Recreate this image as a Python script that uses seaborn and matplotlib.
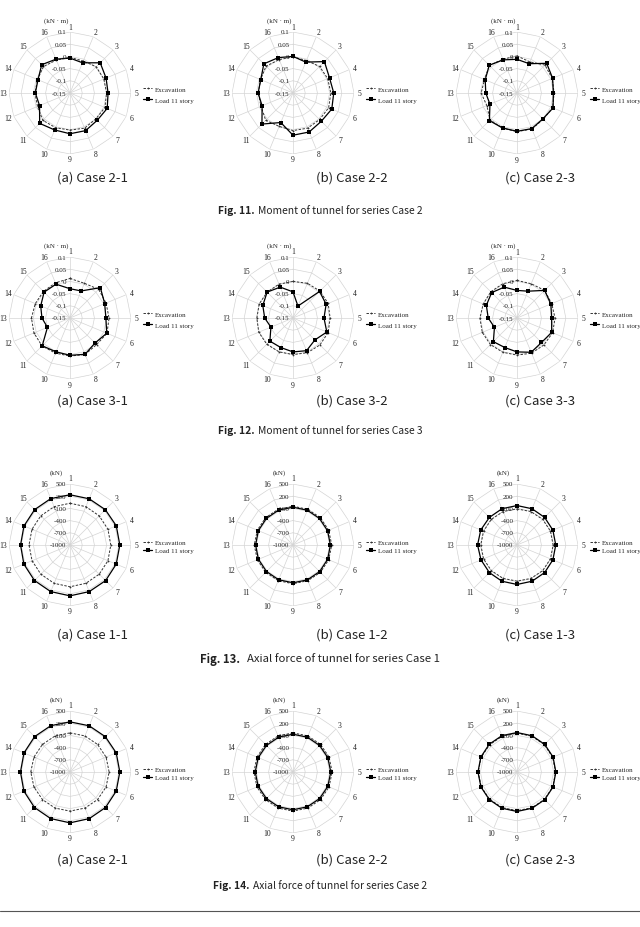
import numpy as np
import matplotlib
matplotlib.use("Agg")
import matplotlib.pyplot as plt
from matplotlib.lines import Line2D
import seaborn as sns

# ── data ──────────────────────────────────────────────────────────────────
points = [str(i) for i in range(1, 17)]

m_ticks = [-0.15, -0.1, -0.05, 0, 0.05, 0.1]
m_ticklabels = ["-0.15", "-0.1", "-0.05", "0", "0.05", "0.1"]
a_ticks = [-1000, -700, -400, -100, 200, 500]
a_ticklabels = ["-1000", "-700", "-400", "-100", "200", "500"]

# Fig. 11 - moment, series Case 2
m21_exc = [-0.004, -0.008, 0.002, 0.0, 0.0, 0.005, 0.0, 0.006, 0.002, 0.004, 0.008, -0.006, -0.006, -0.006, 0.004, -0.004]
m21_load = [-0.007, -0.016, 0.025, 0.010, 0.006, 0.015, 0.008, 0.017, 0.017, 0.014, 0.026, -0.015, -0.008, -0.008, 0.014, 0.0]
m22_exc = [-0.002, -0.006, 0.004, 0.004, 0.005, 0.008, 0.004, 0.006, 0.004, -0.002, 0.008, -0.008, -0.008, -0.006, 0.006, -0.002]
m22_load = [0.0, -0.013, 0.032, 0.012, 0.017, 0.022, 0.014, 0.023, 0.023, -0.019, 0.030, -0.013, -0.007, -0.007, 0.019, 0.007]
m23_exc = [0.002, -0.012, 0.012, 0.006, 0.002, 0.008, 0.002, 0.010, 0.008, 0.006, 0.006, -0.016, -0.003, -0.006, 0.010, 0.0]
m23_load = [-0.012, -0.020, 0.022, 0.008, -0.001, 0.010, 0.0, 0.008, 0.007, 0.005, 0.010, -0.030, -0.022, -0.009, 0.011, -0.003]

# Fig. 12 - moment, series Case 3
m31_exc = [0.012, 0.004, 0.016, 0.010, 0.010, 0.014, 0.004, 0.012, 0.006, 0.006, 0.012, 0.010, 0.008, 0.004, 0.004, 0.006]
m31_load = [-0.030, -0.030, 0.026, 0.004, -0.003, 0.013, -0.005, 0.011, 0.003, 0.0, 0.011, -0.050, -0.035, -0.020, 0.0, 0.0]
m32_exc = [0.0, 0.004, 0.006, 0.006, 0.002, 0.006, 0.006, 0.004, 0.0, 0.0, 0.002, 0.002, -0.002, 0.0, 0.0, 0.0]
m32_load = [-0.043, -0.097, 0.004, -0.003, -0.023, 0.0, -0.023, -0.005, -0.011, -0.019, -0.016, -0.052, -0.034, -0.016, 0.0, -0.013]
m33_exc = [0.004, 0.002, 0.010, 0.004, 0.006, 0.008, 0.006, 0.006, 0.002, 0.002, 0.004, 0.004, 0.002, 0.0, 0.002, 0.002]
m33_load = [-0.037, -0.031, 0.010, 0.0, -0.008, 0.004, -0.008, 0.002, -0.011, -0.019, -0.013, -0.050, -0.032, -0.014, -0.003, -0.013]

# Fig. 13 - axial force, series Case 1
a11_exc = [27, 20, 15, 10, 3, 10, 15, 20, 27, 20, 15, 10, 8, 12, 15, 20]
a11_load = [235, 230, 228, 232, 225, 230, 238, 240, 250, 240, 235, 228, 216, 225, 230, 235]
a12_exc = [-47, -50, -48, -50, -47, -50, -48, -50, -47, -50, -48, -50, -47, -50, -48, -50]
a12_load = [-71, -75, -78, -80, -80, -78, -75, -72, -71, -75, -78, -80, -80, -78, -75, -72]
a13_exc = [-112, -110, -108, -110, -112, -110, -108, -110, -112, -110, -108, -110, -110, -110, -108, -110]
a13_load = [-30, -35, -40, -45, -47, -45, -40, -35, -30, -35, -40, -42, -30, -35, -40, -35]

# Fig. 14 - axial force, series Case 2
a21_exc = [-38, -40, -42, -40, -38, -40, -42, -40, -38, -40, -42, -40, -35, -40, -42, -40]
a21_load = [233, 230, 228, 230, 225, 230, 235, 240, 250, 240, 235, 228, 218, 225, 230, 233]
a22_exc = [-38, -40, -42, -40, -38, -40, -42, -40, -38, -40, -42, -40, -38, -40, -42, -40]
a22_load = [-71, -74, -76, -74, -71, -74, -76, -74, -71, -74, -76, -74, -71, -74, -76, -74]
a23_exc = [-45, -48, -50, -52, -50, -48, -45, -48, -50, -52, -50, -48, -45, -48, -50, -48]
a23_load = [-30, -35, -38, -40, -45, -40, -38, -35, -30, -35, -38, -40, -40, -38, -35, -32]

# ── layout (pixels) ───────────────────────────────────────────────────────
W, H = 640, 928
R = 61
col_x = [70, 293, 517]
rows = [
    dict(cy=94, kind="m", unit="(kN · m)", cap_y=178,
         series=[(m21_exc, m21_load), (m22_exc, m22_load), (m23_exc, m23_load)],
         subs=["(a) Case 2-1", "(b) Case 2-2", "(c) Case 2-3"],
         fig_y=211, fig_no="Fig. 11.", fig_txt="Moment of tunnel for series Case 2",
         fs=7.4, gap=3),
    dict(cy=319, kind="m", unit="(kN · m)", cap_y=401,
         series=[(m31_exc, m31_load), (m32_exc, m32_load), (m33_exc, m33_load)],
         subs=["(a) Case 3-1", "(b) Case 3-2", "(c) Case 3-3"],
         fig_y=431, fig_no="Fig. 12.", fig_txt="Moment of tunnel for series Case 3",
         fs=7.4, gap=3),
    dict(cy=546, kind="a", unit="(kN)", cap_y=635,
         series=[(a11_exc, a11_load), (a12_exc, a12_load), (a13_exc, a13_load)],
         subs=["(a) Case 1-1", "(b) Case 1-2", "(c) Case 1-3"],
         fig_y=659, fig_no="Fig. 13.", fig_txt="Axial force of tunnel for series Case 1",
         fs=8.2, gap=7),
    dict(cy=773, kind="a", unit="(kN)", cap_y=860,
         series=[(a21_exc, a21_load), (a22_exc, a22_load), (a23_exc, a23_load)],
         subs=["(a) Case 2-1", "(b) Case 2-2", "(c) Case 2-3"],
         fig_y=886, fig_no="Fig. 14.", fig_txt="Axial force of tunnel for series Case 2",
         fs=7.4, gap=3),
]
sub_x = [92, 352, 540]

sns.set_theme(style="white")
plt.rcParams["font.family"] = ["Liberation Serif", "DejaVu Serif"]
SANS = ["Noto Sans CJK KR", "DejaVu Sans"]
GRID = "#d4d4d4"

fig = plt.figure(figsize=(W / 100, H / 100), dpi=100)
fig.patch.set_facecolor("white")

theta = np.linspace(0, 2 * np.pi, 17)
theta_deg = np.degrees(theta[:-1])


def radar(cx, cy, exc, load, ticks, ticklabels, unit, spacing):
    ax = fig.add_axes([(cx - R) / W, 1 - (cy + R) / H, 2 * R / W, 2 * R / H],
                      projection="polar")
    ax.set_theta_zero_location("N")
    ax.set_theta_direction(-1)
    lo, hi = ticks[0], ticks[-1]
    ax.set_ylim(lo, hi)
    ax.set_facecolor("none")
    ax.spines["polar"].set_visible(False)
    ax.yaxis.grid(False)
    ax.xaxis.grid(True, color=GRID, lw=0.5)
    ax.set_thetagrids(theta_deg, [""] * 16)
    ax.tick_params(axis="x", length=0)
    ax.set_yticks([])
    for lvl in ticks[1:]:
        ax.plot(theta, [lvl] * 17, color=GRID, lw=0.5, zorder=0)
    # spoke labels 1..16 just outside the outer ring
    r_lab = hi + (hi - lo) * 5.5 / R
    for t, p in zip(theta[:-1], points):
        ax.text(t, r_lab, p, ha="center", va="center", fontsize=5.5,
                color="#222222", clip_on=False)
    for lvl, lab in zip(ticks, ticklabels):
        ax.annotate(lab, xy=(0, lvl), xytext=(-2.5, 0), textcoords="offset points",
                    ha="right", va="center", fontsize=5, color="#222222")
    e = np.append(exc, exc[0])
    l = np.append(load, load[0])
    sns.lineplot(x=theta, y=e, ax=ax, sort=False, estimator=None, color="#333333",
                 lw=0.7, linestyle=(0, (2.5, 1.5)), marker="o", markersize=1.3,
                 markeredgewidth=0)
    sns.lineplot(x=theta, y=l, ax=ax, sort=False, estimator=None, color="black",
                 lw=0.9, marker="s", markersize=2.2, markeredgewidth=0)
    ax.set_xlabel("")
    ax.set_ylabel("")
    ax.text(0.385, 1.10, unit, transform=ax.transAxes, ha="center", va="center",
            fontsize=5)
    handles = [
        Line2D([], [], color="#333333", lw=0.7, linestyle=(0, (2.5, 1.5)),
               marker="o", markersize=1.3, markeredgewidth=0),
        Line2D([], [], color="black", lw=0.9, marker="s", markersize=2.2,
               markeredgewidth=0),
    ]
    ax.legend(handles, ["Excavation", "Load 11 story"], loc="center left",
              bbox_to_anchor=(1.10, 0.49), frameon=False, fontsize=5,
              handlelength=1.3, handletextpad=0.4, labelspacing=spacing,
              borderaxespad=0, borderpad=0)
    return ax


renderer = fig.canvas.get_renderer()
for row in rows:
    if row["kind"] == "m":
        ticks, labs, spacing = m_ticks, m_ticklabels, 0.75
    else:
        ticks, labs, spacing = a_ticks, a_ticklabels, 0.3
    for cx, (exc, load), sub, sx in zip(col_x, row["series"], row["subs"], sub_x):
        radar(cx, row["cy"], exc, load, ticks, labs, row["unit"], spacing)
        fig.text(sx / W, 1 - row["cap_y"] / H, sub, ha="center", va="center",
                 fontsize=9.5, family=SANS, color="#222222")

    # figure caption: bold number + regular text, centred
    t1 = fig.text(0, 1 - row["fig_y"] / H, row["fig_no"], ha="left", va="center",
                  fontsize=row["fs"], family=SANS, fontweight="bold", color="#222222")
    t2 = fig.text(0, 1 - row["fig_y"] / H, row["fig_txt"], ha="left",
                  va="center", fontsize=row["fs"], family=SANS, color="#222222")
    w1 = t1.get_window_extent(renderer).width
    w2 = t2.get_window_extent(renderer).width
    x0 = 320 - (w1 + row["gap"] + w2) / 2
    t1.set_x(x0 / W)
    t2.set_x((x0 + w1 + row["gap"]) / W)

fig.add_artist(Line2D([0.0, 1.0], [1 - 912 / H, 1 - 912 / H], color="#555555", lw=0.8,
                      transform=fig.transFigure))

fig.savefig("out.png", dpi=100, facecolor="white")
